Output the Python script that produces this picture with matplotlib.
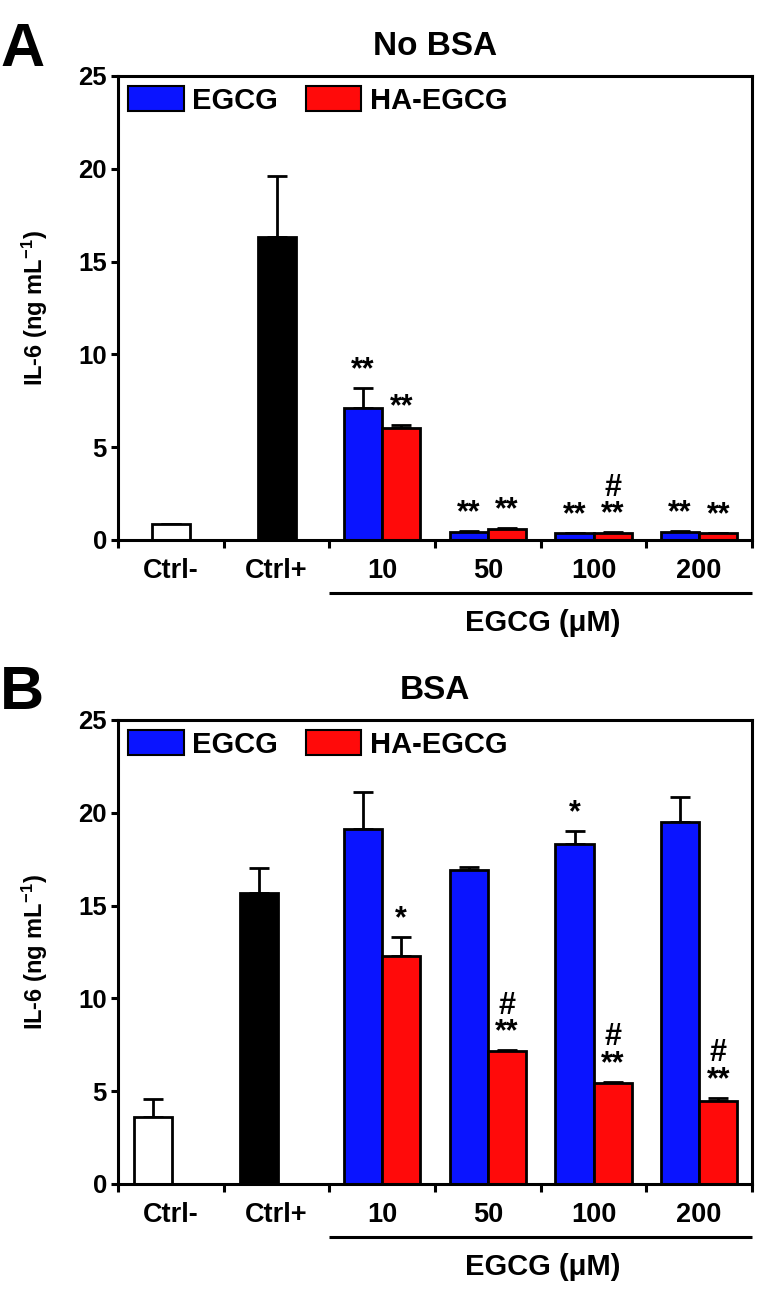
import matplotlib
matplotlib.use("Agg")
import matplotlib.pyplot as plt
import matplotlib.transforms as mtransforms
import numpy as np

plt.rcParams['font.family'] = ['Liberation Sans', 'DejaVu Sans']
plt.rcParams['font.weight'] = 'bold'
plt.rcParams['mathtext.fontset'] = 'custom'
plt.rcParams['mathtext.rm'] = 'Liberation Sans:bold'
plt.rcParams['mathtext.bf'] = 'Liberation Sans:bold'
plt.rcParams['mathtext.it'] = 'Liberation Sans:bold'

categories = ['Ctrl-', 'Ctrl+', '10', '50', '100', '200']
doses = ['10', '50', '100', '200']

# Panel A (No BSA)
a_ctrl = [0.85, 16.3]
a_ctrl_err = [0.0, 3.3]
a_egcg = [7.1, 0.45, 0.35, 0.45]
a_egcg_err = [1.1, 0.05, 0.03, 0.05]
a_ha = [6.05, 0.6, 0.4, 0.35]
a_ha_err = [0.12, 0.05, 0.03, 0.03]
a_marks_egcg = ['**', '**', '**', '**']
a_marks_ha = ['**', '**', '#\n**', '**']

# Panel B (BSA)
b_ctrl = [3.6, 15.7]
b_ctrl_err = [1.0, 1.3]
b_egcg = [19.1, 16.9, 18.3, 19.5]
b_egcg_err = [2.0, 0.2, 0.7, 1.35]
b_ha = [12.3, 7.15, 5.45, 4.45]
b_ha_err = [1.0, 0.07, 0.06, 0.2]
b_marks_egcg = ['', '', '*', '']
b_marks_ha = ['*', '#\n**', '#\n**', '#\n**']

BLUE = '#0a14ff'
RED = '#ff0a0a'

fig = plt.figure(figsize=(7.6, 12.89), dpi=100)

def panel(rect, ctrl, ctrl_err, egcg, egcg_err, ha, ha_err, m_e, m_h, title, letter, ctrl_off, letter_y):
    ax = fig.add_axes(rect)
    w = 0.36
    ekw = dict(fmt='none', ecolor='black', elinewidth=2, capsize=7, capthick=2, zorder=1)
    xc = np.arange(2) + ctrl_off
    ax.bar(xc, ctrl, width=w, color=['white', 'black'], edgecolor='black', linewidth=2, zorder=2)
    ax.errorbar(xc, ctrl, yerr=[np.zeros(2), ctrl_err], **ekw)
    xd = np.arange(2, 6)
    xb = xd - w / 2
    xr = xd + w / 2
    ax.bar(xb, egcg, width=w, color=BLUE, edgecolor='black', linewidth=2, zorder=2, label='EGCG')
    ax.bar(xr, ha, width=w, color=RED, edgecolor='black', linewidth=2, zorder=2, label='HA-EGCG')
    ax.errorbar(xb, egcg, yerr=[np.zeros(4), egcg_err], **ekw)
    ax.errorbar(xr, ha, yerr=[np.zeros(4), ha_err], **ekw)
    for xs, vals, errs, marks in ((xb, egcg, egcg_err, m_e), (xr, ha, ha_err, m_h)):
        for x, v, e, m in zip(xs, vals, errs, marks):
            if m:
                ax.text(x, v + e + 0.15, m, ha='center', va='bottom', fontsize=22,
                        fontweight='bold', linespacing=0.85)
    ax.set_xlim(-0.5, 5.5)
    ax.set_ylim(0, 25)
    ax.set_yticks([0, 5, 10, 15, 20, 25])
    ax.set_xticks(range(6))
    ax.set_xticklabels(categories)
    ax.set_xticks(np.arange(-0.5, 5.6, 1.0), minor=True)
    ax.tick_params(axis='x', which='major', length=0, pad=13, labelsize=19.5)
    ax.tick_params(axis='x', which='minor', length=6, width=2.2, direction='out')
    ax.tick_params(axis='y', length=5, width=2.2, direction='out', labelsize=18.5, pad=3)
    for lab in ax.get_xticklabels() + ax.get_yticklabels():
        lab.set_fontweight('bold')
    for s in ax.spines.values():
        s.set_linewidth(2.2)
    ax.set_ylabel('IL-6 (ng mL$^{-1}$)', fontsize=17, fontweight='bold')
    ax.yaxis.set_label_coords(-0.107, 0.5)
    ax.set_title(title, fontsize=24, fontweight='bold', pad=15)
    leg = ax.legend(loc='upper left', ncol=2, frameon=False, handlelength=1.9,
                    handleheight=0.95, columnspacing=0.95, handletextpad=0.3,
                    borderaxespad=0.15, borderpad=0.2,
                    prop={'weight': 'bold', 'size': 21})
    for p in leg.get_patches():
        p.set_linewidth(1.5)
    tr = mtransforms.blended_transform_factory(ax.transData, ax.transAxes)
    ax.plot([1.5, 5.5], [-0.115, -0.115], transform=tr, color='black', lw=2.2,
            clip_on=False, solid_capstyle='butt')
    ax.text(3.52, -0.178, 'EGCG (μM)', transform=tr, ha='center', va='center',
            fontsize=21, fontweight='bold')
    fig.text(0.0, letter_y, letter, fontsize=44, fontweight='bold', ha='left', va='center')
    return ax

panel([0.1553, 0.5811, 0.8342, 0.360], a_ctrl, a_ctrl_err, a_egcg, a_egcg_err, a_ha, a_ha_err,
      a_marks_egcg, a_marks_ha, 'No BSA', 'A', 0.0, 0.961)
panel([0.1553, 0.0815, 0.8342, 0.360], b_ctrl, b_ctrl_err, b_egcg, b_egcg_err, b_ha, b_ha_err,
      b_marks_egcg, b_marks_ha, 'BSA', 'B', -0.17, 0.4616)

fig.savefig('out.png', dpi=100)
